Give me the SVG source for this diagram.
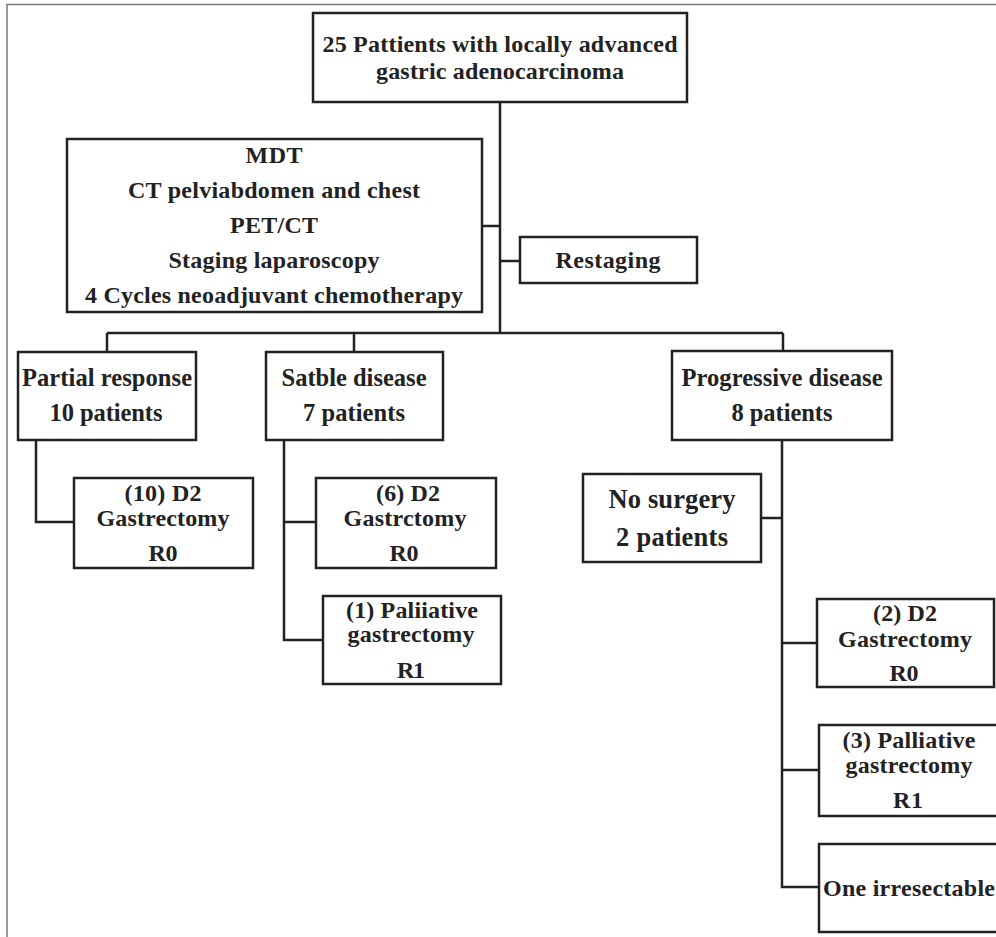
<svg xmlns="http://www.w3.org/2000/svg" width="996" height="937" viewBox="0 0 996 937">
<style>
.box{fill:#fff;stroke:#222;stroke-width:2.5}
.con{fill:none;stroke:#222;stroke-width:2.5}
.frame{fill:none;stroke:#777;stroke-width:1.5}
text{font-family:"Liberation Serif","Times New Roman",serif;font-weight:bold;fill:#222;text-anchor:middle}
.t22{font-size:24px}
.t23{font-size:24.5px}
.t25{font-size:26.5px}
</style>
<rect width="996" height="937" fill="#fff"/>
<path class="frame" d="M7 937 V4.5 H996"/>
<g id="connectors">
<path class="con" d="M500 102 V333"/>
<path class="con" d="M482 226 H500"/>
<path class="con" d="M500 261 H520"/>
<path class="con" d="M107 333 H783"/>
<path class="con" d="M107 333 V352"/>
<path class="con" d="M354 333 V352"/>
<path class="con" d="M783 333 V351"/>
<path class="con" d="M36 440 V522 H74"/>
<path class="con" d="M284 440 V640 H323"/>
<path class="con" d="M284 522 H316"/>
<path class="con" d="M782 440 V887 H819"/>
<path class="con" d="M761 518 H782"/>
<path class="con" d="M782 643 H817"/>
<path class="con" d="M782 770 H819"/>
</g>
<g id="n-top">
<rect class="box" x="313" y="13" width="374" height="89"/>
<text class="t22" x="500" y="52" textLength="355">25 Pattients with locally advanced</text>
<text class="t22" x="500" y="79" textLength="248">gastric adenocarcinoma</text>
</g>
<g id="n-mdt">
<rect class="box" x="67" y="139" width="415" height="173"/>
<text class="t22" x="274" y="163" textLength="57">MDT</text>
<text class="t22" x="274" y="198" textLength="292">CT pelviabdomen and chest</text>
<text class="t22" x="274" y="233" textLength="88">PET/CT</text>
<text class="t22" x="274" y="268" textLength="211">Staging laparoscopy</text>
<text class="t22" x="274" y="303" textLength="378">4 Cycles neoadjuvant chemotherapy</text>
</g>
<g id="n-restaging">
<rect class="box" x="520" y="237" width="177" height="46"/>
<text class="t22" x="608" y="268" textLength="105">Restaging</text>
</g>
<g id="n-partial">
<rect class="box" x="18" y="352" width="178" height="88"/>
<text class="t23" x="107" y="386" textLength="170">Partial response</text>
<text class="t23" x="106" y="421" textLength="113">10 patients</text>
</g>
<g id="n-stable">
<rect class="box" x="266" y="352" width="177" height="88"/>
<text class="t23" x="354" y="386" textLength="145">Satble disease</text>
<text class="t23" x="354" y="421" textLength="102">7 patients</text>
</g>
<g id="n-progressive">
<rect class="box" x="672" y="351" width="220" height="89"/>
<text class="t23" x="782" y="386" textLength="201">Progressive disease</text>
<text class="t23" x="782" y="421" textLength="101">8 patients</text>
</g>
<g id="n-d2-10">
<rect class="box" x="74" y="478" width="179" height="90"/>
<text class="t22" x="163" y="501" textLength="77">(10) D2</text>
<text class="t22" x="163" y="526" textLength="133">Gastrectomy</text>
<text class="t22" x="163" y="561" textLength="29">R0</text>
</g>
<g id="n-d2-6">
<rect class="box" x="316" y="478" width="180" height="90"/>
<text class="t22" x="408" y="501" textLength="64">(6) D2</text>
<text class="t22" x="405" y="526" textLength="123">Gastrctomy</text>
<text class="t22" x="404" y="561" textLength="29">R0</text>
</g>
<g id="n-pal-1">
<rect class="box" x="323" y="596" width="178" height="88"/>
<text class="t22" x="412" y="618" textLength="132">(1) Paliiative</text>
<text class="t22" x="411" y="642" textLength="127">gastrectomy</text>
<text class="t22" x="411" y="678" textLength="28">R1</text>
</g>
<g id="n-nosurgery">
<rect class="box" x="583" y="474" width="178" height="88"/>
<text class="t25" x="672" y="508" textLength="127">No surgery</text>
<text class="t25" x="672" y="546" textLength="112">2 patients</text>
</g>
<g id="n-d2-2">
<rect class="box" x="817" y="599" width="177" height="88"/>
<text class="t22" x="905" y="621" textLength="64">(2) D2</text>
<text class="t22" x="905" y="647" textLength="134">Gastrectomy</text>
<text class="t22" x="904" y="681" textLength="29">R0</text>
</g>
<g id="n-pal-3">
<rect class="box" x="819" y="725" width="190" height="91"/>
<text class="t22" x="909" y="748" textLength="133">(3) Palliative</text>
<text class="t22" x="909" y="773" textLength="127">gastrectomy</text>
<text class="t22" x="908" y="808" textLength="30">R1</text>
</g>
<g id="n-irresectable">
<rect class="box" x="819" y="844" width="190" height="88"/>
<text class="t22" x="909" y="896" textLength="172">One irresectable</text>
</g>
</svg>
